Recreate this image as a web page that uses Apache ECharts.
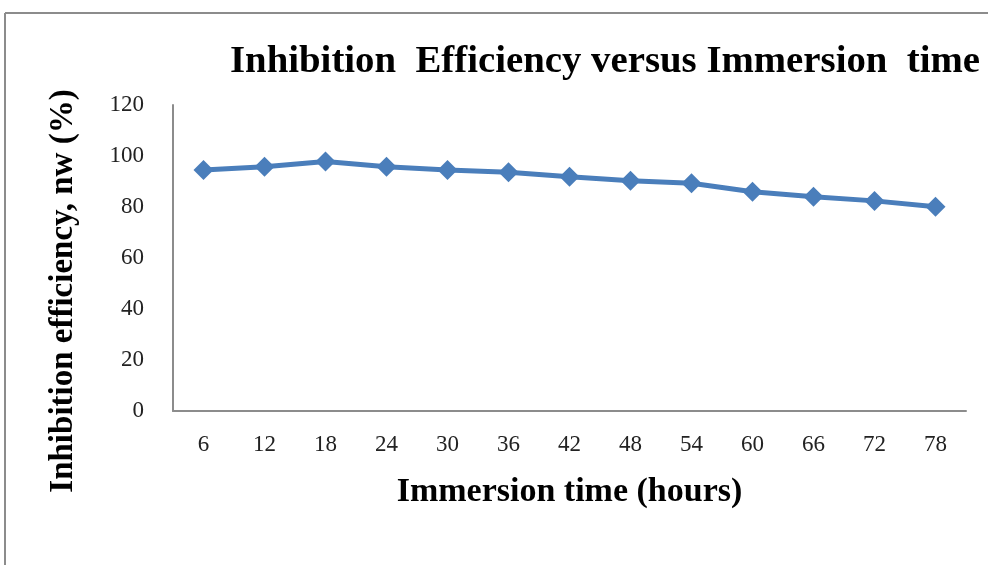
<!DOCTYPE html>
<html>
<head>
<meta charset="utf-8">
<script src="https://cdn.jsdelivr.net/npm/echarts@6/dist/echarts.min.js"></script>
<style>html,body{margin:0;padding:0;background:#fff;}#c{width:988px;height:565px;}</style>
</head>
<body>
<div id="c"></div>
<script>
var categories = ['6','12','18','24','30','36','42','48','54','60','66','72','78'];
var efficiency = [94.5, 95.8, 97.8, 95.8, 94.5, 93.6, 91.9, 90.3, 89.3, 86.0, 84.0, 82.4, 80.1];
var titleText = 'Inhibition  Efficiency versus Immersion  time';
var xName = 'Immersion time (hours)';
var yName = 'Inhibition efficiency, nw (%)';

var chart = echarts.init(document.getElementById('c'), null, {renderer: 'canvas'});
var serif = '"Liberation Serif", "Times New Roman", serif';
chart.setOption({
  animation: false,
  backgroundColor: '#fff',
  title: {
    text: titleText, left: 225, top: 37,
    textStyle: {fontFamily: serif, fontWeight: 'bold', fontSize: 38.8, color: '#000'}
  },
  graphic: [
    {type: 'line', shape: {x1: 5, y1: 13, x2: 988, y2: 13}, style: {stroke: '#8c8c8c', lineWidth: 2}},
    {type: 'line', shape: {x1: 5, y1: 13, x2: 5, y2: 565}, style: {stroke: '#8c8c8c', lineWidth: 2}}
  ],
  grid: {left: 173, right: 22, top: 105, bottom: 154, containLabel: false},
  xAxis: {
    type: 'category', data: categories, boundaryGap: true,
    name: xName, nameLocation: 'middle', nameGap: 64,
    nameTextStyle: {fontFamily: serif, fontWeight: 'bold', fontSize: 34, color: '#000'},
    axisLine: {lineStyle: {color: '#8c8c8c', width: 2}},
    axisTick: {show: false},
    axisLabel: {fontFamily: serif, fontSize: 23, color: '#222', margin: 22}
  },
  yAxis: {
    type: 'value', min: 0, max: 120, interval: 20,
    name: yName, nameLocation: 'middle', nameGap: 93, nameRotate: 90,
    nameTextStyle: {fontFamily: serif, fontWeight: 'bold', fontSize: 33, color: '#000', padding: [0, 66, 0, 0]},
    axisLine: {show: true, lineStyle: {color: '#8c8c8c', width: 2}},
    axisTick: {show: false},
    splitLine: {show: false},
    axisLabel: {fontFamily: serif, fontSize: 23, color: '#222', margin: 29}
  },
  series: [{
    type: 'line', data: efficiency,
    symbol: 'diamond', symbolSize: 20,
    lineStyle: {color: '#4a7ebb', width: 5},
    itemStyle: {color: '#4a7ebb'}
  }]
});
</script>
</body>
</html>
